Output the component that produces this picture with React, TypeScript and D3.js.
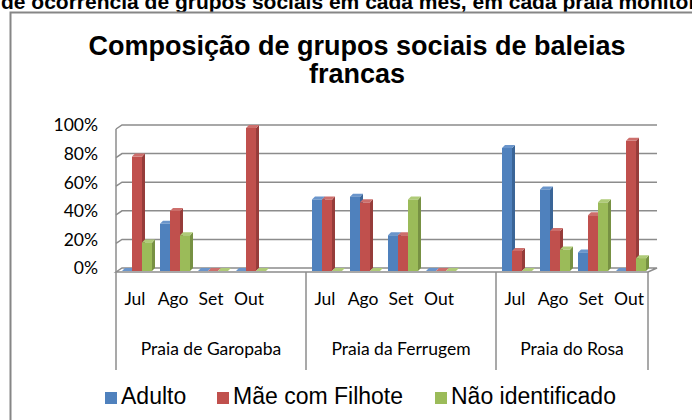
import React from "react";
import * as d3 from "d3";

const beaches = ["Praia de Garopaba", "Praia da Ferrugem", "Praia do Rosa"];
const months = ["Jul", "Ago", "Set", "Out"];
const series = ["Adulto", "Mãe com Filhote", "Não identificado"];
const colors = ["#4F81BD", "#C0504D", "#9BBB59"];
const sideColors = ["#3A6597", "#963C3A", "#779143"];
const topColors = ["#6A95CB", "#CD6F6C", "#AFCB78"];

// percent per beach, per month: [Adulto, Mãe com Filhote, Não identificado]
const garopaba = [[0, 80, 20], [33, 42, 25], [0, 0, 0], [0, 100, 0]];
const ferrugem = [[50, 50, 0], [52, 48, 0], [25, 25, 50], [0, 0, 0]];
const rosa = [[86, 14, 0], [57, 28, 15], [13, 39, 48], [0, 91, 9]];
const yTicks = [0, 20, 40, 60, 80, 100];

const W = 692;
const H = 420;
const left = 116;
const right = 648;
const floorY = 272;
const dx = 6;
const dy = -4;

export default function App() {
  const values = [garopaba, ferrugem, rosa];
  // one blank slot between beaches, like the source sheet
  const slots: string[] = [];
  beaches.forEach((b, bi) => {
    months.forEach((m) => slots.push(`${b}|${m}`));
    if (bi < beaches.length - 1) slots.push(`${b}|blank`);
  });

  const x0 = d3.scaleBand().domain(slots).range([left, right]);
  const x1 = d3.scaleBand().domain(series).range([0, 30]);
  const y = d3.scaleLinear().domain([0, 100]).range([floorY, 129]);

  const bars: JSX.Element[] = [];
  values.forEach((rows, bi) => {
    rows.forEach((row, mi) => {
      const cx = x0(`${beaches[bi]}|${months[mi]}`)!;
      row.forEach((v, si) => {
        const bx = cx + 5 + x1(series[si])! + 1;
        const bw = x1.bandwidth();
        const by0 = y(0) - 1;
        const by = y(v) - 1;
        const d = 3;
        bars.push(
          <g key={`${bi}-${mi}-${si}`}>
            <polygon
              points={`${bx + bw},${by} ${bx + bw + d},${by - d} ${bx + bw + d},${by0 - d} ${bx + bw},${by0}`}
              fill={sideColors[si]}
            />
            <polygon
              points={`${bx},${by} ${bx + d},${by - d} ${bx + bw + d},${by - d} ${bx + bw},${by}`}
              fill={topColors[si]}
            />
            <rect x={bx} y={by} width={bw} height={Math.max(0, by0 - by)} fill={colors[si]} />
          </g>
        );
      });
    });
  });

  const groupEdges = [
    left,
    x0(`${beaches[0]}|blank`)! + x0.bandwidth(),
    x0(`${beaches[1]}|blank`)! + x0.bandwidth(),
    right,
  ];

  const axisFont = "Lato, 'Open Sans', sans-serif";
  const grid = "#8C8C8C";

  return (
    <svg width={W} height={H} style={{ position: "absolute", left: 0, top: 0 }}>
      <rect width={W} height={H} fill="#fff" />
      <text
        x={1}
        y={9}
        fontFamily="'Liberation Sans', Arial, sans-serif"
        fontWeight="bold"
        fontSize={21}
        fill="#000"
      >
        de ocorrência de grupos sociais em cada mês, em cada praia monitorada
      </text>
      <rect x={10.5} y={12.5} width={760} height={480} fill="#fff" stroke="#868686" strokeWidth={2} />

      <text
        x={357}
        y={55}
        textAnchor="middle"
        fontFamily="'Liberation Sans', Arial, sans-serif"
        fontWeight="bold"
        fontSize={27}
      >
        Composição de grupos sociais de baleias
      </text>
      <text
        x={357}
        y={83}
        textAnchor="middle"
        fontFamily="'Liberation Sans', Arial, sans-serif"
        fontWeight="bold"
        fontSize={27}
      >
        francas
      </text>

      {/* floor */}
      <polygon
        points={`${left},${floorY} ${left + dx},${floorY + dy} ${right + dx + 3},${floorY + dy} ${right},${floorY}`}
        fill="#fff"
        stroke={grid}
        strokeWidth={1.5}
      />
      {/* back wall grid */}
      {yTicks.filter((t) => t > 0).map((t) => (
        <polyline
          key={t}
          points={`${left},${y(t)} ${left + dx},${y(t) + dy} ${right + dx + 3},${y(t) + dy}`}
          fill="none"
          stroke={grid}
          strokeWidth={1.5}
        />
      ))}
      <line x1={left} x2={left} y1={y(100)} y2={floorY} stroke={grid} strokeWidth={1.5} />

      {bars}

      {yTicks.map((t) => (
        <text
          key={t}
          x={98}
          y={y(t) - 2}
          textAnchor="end"
          dominantBaseline="middle"
          fontFamily={axisFont}
          fontSize={17.5}
          fill="#000"
        >
          {t}%
        </text>
      ))}

      {/* category axis */}
      {groupEdges.map((gx, i) => (
        <line key={i} x1={gx} x2={gx} y1={floorY} y2={370} stroke={grid} strokeWidth={1.5} />
      ))}
      {beaches.map((b) =>
        months.map((m) => (
          <text
            key={`${b}${m}`}
            x={x0(`${b}|${m}`)! + x0.bandwidth() / 2}
            y={301}
            textAnchor="middle"
            dominantBaseline="middle"
            fontFamily={axisFont}
            fontSize={17.5}
          >
            {m}
          </text>
        ))
      )}
      {beaches.map((b, bi) => {
        const a = x0(`${b}|${months[0]}`)!;
        const e = x0(`${b}|${months[3]}`)! + x0.bandwidth();
        const cx = bi < 2 ? (groupEdges[bi] + groupEdges[bi + 1]) / 2 : (a + e) / 2;
        return (
          <text
            key={b}
            x={cx}
            y={351}
            textAnchor="middle"
            dominantBaseline="middle"
            fontFamily={axisFont}
            fontSize={17.5}
          >
            {b}
          </text>
        );
      })}

      {/* legend */}
      {series.map((s, si) => {
        const lx = [105, 217, 435][si];
        return (
          <g key={s}>
            <rect x={lx} y={392} width={12} height={12} fill={colors[si]} />
            <text
              x={lx + 16}
              y={398}
              dominantBaseline="middle"
              fontFamily="'Liberation Sans', Arial, sans-serif"
              fontSize={23}
            >
              {s}
            </text>
          </g>
        );
      })}
    </svg>
  );
}
